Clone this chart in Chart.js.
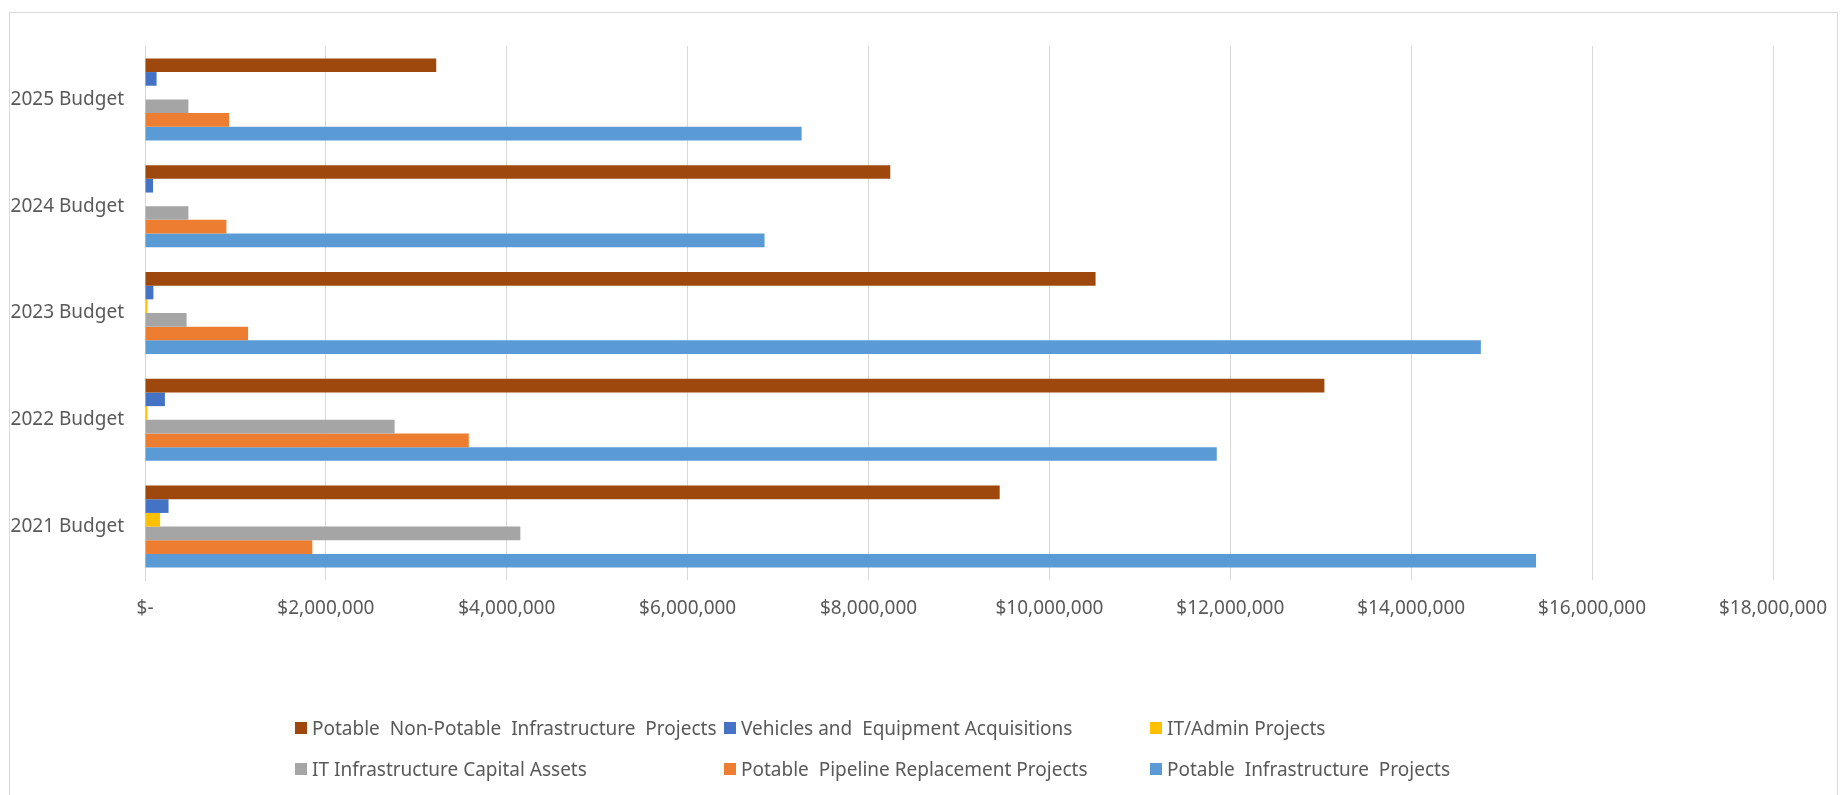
<!DOCTYPE html>
<html>
<head>
<meta charset="utf-8">
<script src="https://cdn.jsdelivr.net/npm/chart.js@4.4.1/dist/chart.umd.min.js"></script>
<style>
  html, body { margin: 0; padding: 0; background: #ffffff; }
  #wrap { position: relative; width: 1845px; height: 795px; overflow: hidden; }
  #frame { position: absolute; left: 9px; top: 12px; width: 1829px; height: 800px; border: 1px solid #d9d9d9; box-sizing: border-box; }
  #c { position: absolute; left: 0; top: 0; }
  .lg { position: absolute; display: flex; align-items: center; font-family: "Noto Sans", sans-serif; font-size: 19px; color: #595959; white-space: pre; }
  .lg .box { width: 12px; height: 12px; margin-right: 5px; flex: none; }
</style>
</head>
<body>
<div id="wrap">
  <div id="frame"></div>
  <canvas id="c" width="1845" height="795"></canvas>
  <div id="legend"></div>
</div>
<script>
const categories = ['2025 Budget', '2024 Budget', '2023 Budget', '2022 Budget', '2021 Budget'];
const potableNonPotable = [3220000, 8240000, 10510000, 13040000, 9450000];
const vehicles = [128000, 89000, 93000, 220000, 260000];
const itAdmin = [0, 0, 27000, 27000, 167000];
const itInfra = [480000, 480000, 460000, 2760000, 4150000];
const pipeline = [930000, 900000, 1140000, 3580000, 1850000];
const potableInfra = [7260000, 6850000, 14770000, 11850000, 15380000];
const seriesNames = [
  'Potable  Non-Potable  Infrastructure  Projects',
  'Vehicles and  Equipment Acquisitions',
  'IT/Admin Projects',
  'IT Infrastructure Capital Assets',
  'Potable  Pipeline Replacement Projects',
  'Potable  Infrastructure  Projects'
];
const tickLabels = ['$-', '$2,000,000', '$4,000,000', '$6,000,000', '$8,000,000', '$10,000,000', '$12,000,000', '$14,000,000', '$16,000,000', '$18,000,000'];

const seriesValues = [potableNonPotable, vehicles, itAdmin, itInfra, pipeline, potableInfra];
const colors = ['#9E480E', '#4472C4', '#FFC000', '#A5A5A5', '#ED7D31', '#5B9BD5'];

const datasets = seriesValues.map((vals, i) => ({
  label: seriesNames[i],
  data: vals,
  backgroundColor: colors[i],
  borderWidth: 0,
  categoryPercentage: 0.768,
  barPercentage: 1.0
}));

const txt = '#595959';
new Chart(document.getElementById('c'), {
  type: 'bar',
  data: { labels: categories, datasets },
  options: {
    responsive: false,
    animation: false,
    indexAxis: 'y',
    layout: { padding: { left: 9, right: 72, top: 46, bottom: 165 } },
    plugins: { legend: { display: false }, tooltip: { enabled: false } },
    scales: {
      x: {
        min: 0, max: 18000000,
        ticks: {
          stepSize: 2000000,
          padding: 17,
          color: txt,
          font: { family: 'Noto Sans', size: 19 },
          maxRotation: 0,
          callback: (v, i) => tickLabels[i]
        },
        grid: { color: '#d9d9d9', lineWidth: 1, drawTicks: false },
        border: { display: false },
        afterFit: s => { s.height = 50; }
      },
      y: {
        ticks: { padding: 21, color: txt, font: { family: 'Noto Sans', size: 19 } },
        grid: { display: false, drawTicks: false },
        border: { display: true, color: '#d9d9d9', width: 1 },
        afterFit: s => { s.width = 136; }
      }
    }
  }
});

// HTML legend built from the series arrays
const lgPos = [[295, 728], [724, 728], [1150, 728], [295, 769], [724, 769], [1150, 769]];
const lg = document.getElementById('legend');
seriesNames.forEach((n, i) => {
  const d = document.createElement('div');
  d.className = 'lg';
  d.style.left = lgPos[i][0] + 'px';
  d.style.top = (lgPos[i][1] - 13) + 'px';
  d.style.height = '26px';
  const b = document.createElement('span');
  b.className = 'box';
  b.style.background = colors[i];
  const t = document.createElement('span');
  t.textContent = n;
  d.appendChild(b); d.appendChild(t);
  lg.appendChild(d);
});
</script>
</body>
</html>
